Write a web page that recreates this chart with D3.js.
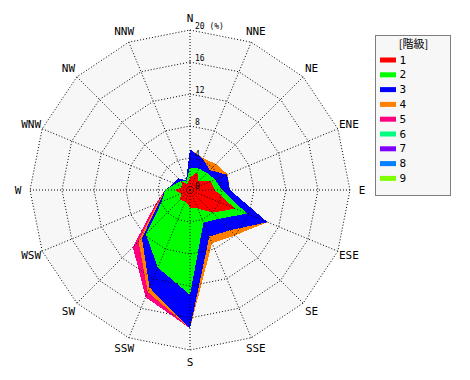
<!DOCTYPE html>
<html>
<head>
<meta charset="utf-8">
<script src="https://cdn.jsdelivr.net/npm/d3@7"></script>
<style>
body { margin: 0; background: #fff; }
text { font-family: "DejaVu Sans Mono", monospace; fill: #000; }
</style>
</head>
<body>
<svg id="windRose" width="470" height="380"></svg>
<script>
const directions = ["N", "NNE", "NE", "ENE", "E", "ESE", "SE", "SSE", "S", "SSW", "SW", "WSW", "W", "WNW", "NW", "NNW"];
const classes = ["1", "2", "3", "4", "5", "6", "7", "8", "9"];
const colors = ["#ff0000", "#00ff00", "#0000ff", "#ff8000", "#ff0080", "#00ff80", "#8000ff", "#0080ff", "#80ff00"];

// % per direction, one list per class
const class1 = [1.6, 2.4, 1.5, 2.8, 3.1, 6.1, 4.0, 2.5, 2.2, 1.5, 1.8, 1.2, 1.9, 1.0, 1.6, 0.8];
const class2 = [1.2, 0.5, 1.5, 0.6, 0.9, 1.6, 1.1, 1.9, 10.9, 9.0, 6.0, 2.6, 1.2, 1.0, 0.0, 0.4];
const class3 = [2.3, 1.3, 0.5, 1.6, 1.0, 2.8, 2.0, 1.9, 4.2, 2.7, 0.7, 0.4, 0.0, 0.2, 0.5, 0.1];
const class4 = [0.0, 0.1, 1.1, 0.1, 0.0, 0.0, 0.9, 0.9, 0.0, 0.6, 0.6, 0.2, 0.0, 0.0, 0.0, 0.0];
const class5 = [0.0, 0.0, 0.0, 0.0, 0.0, 0.0, 0.0, 0.0, 0.0, 0.7, 1.0, 0.3, 0.0, 0.0, 0.0, 0.0];
const class6 = [0, 0, 0, 0, 0, 0, 0, 0, 0, 0, 0, 0, 0, 0, 0, 0];
const class7 = [0, 0, 0, 0, 0, 0, 0, 0, 0, 0, 0, 0, 0, 0, 0, 0];
const class8 = [0, 0, 0, 0, 0, 0, 0, 0, 0, 0, 0, 0, 0, 0, 0, 0];
const class9 = [0, 0, 0, 0, 0, 0, 0, 0, 0, 0, 0, 0, 0, 0, 0, 0];

const ticks = [0, 4, 8, 12, 16, 20];

const series = [class1, class2, class3, class4, class5, class6, class7, class8, class9];

const table = directions.map((dir, i) => {
    const row = {dir};
    classes.forEach((c, j) => row[c] = series[j][i]);
    return row;
});

const stacked = d3.stack().keys(classes)(table);

const cx = 190, cy = 190;

const r = d3.scaleLinear()
    .domain([0, 20])
    .range([0, 160]);

const angle = i => i * 2 * Math.PI / directions.length;

const color = d3.scaleOrdinal()
    .domain(classes)
    .range(colors);

const svg = d3.select("#windRose");

const plot = svg.append("g")
    .attr("transform", `translate(${cx},${cy})`);

const ring = v => d3.lineRadial()
    .angle((d, i) => angle(i))
    .radius(r(v))
    .curve(d3.curveLinearClosed)(directions);

plot.append("path")
    .attr("d", ring(20))
    .attr("fill", "#f7f7f7");

plot.append("g")
    .selectAll("path")
    .data(stacked.slice().reverse())
    .join("path")
    .attr("d", s => d3.lineRadial()
        .angle((d, i) => angle(i))
        .radius(d => r(d[1]))
        .curve(d3.curveLinearClosed)(s))
    .attr("fill", s => color(s.key))
    .attr("shape-rendering", "crispEdges");

const grid = plot.append("g")
    .attr("fill", "none")
    .attr("stroke", "#000")
    .attr("stroke-width", 1)
    .attr("stroke-dasharray", "1,2");

grid.selectAll("path")
    .data(ticks.slice(1))
    .join("path")
    .attr("d", v => ring(v));

grid.selectAll("line")
    .data(directions)
    .join("line")
    .attr("x1", 0)
    .attr("y1", 0)
    .attr("x2", (d, i) => r(20) * Math.sin(angle(i)))
    .attr("y2", (d, i) => -r(20) * Math.cos(angle(i)));

plot.append("g")
    .attr("font-size", 8)
    .selectAll("text")
    .data(ticks)
    .join("text")
    .attr("x", 5)
    .attr("y", v => -r(v) - 1.5)
    .text(v => v === 20 ? "20 (%)" : v);

plot.append("g")
    .attr("font-size", 11)
    .attr("text-anchor", "middle")
    .attr("dominant-baseline", "central")
    .selectAll("text")
    .data(directions)
    .join("text")
    .attr("x", (d, i) => (r(20) + 12) * Math.sin(angle(i)))
    .attr("y", (d, i) => -(r(20) + 12) * Math.cos(angle(i)))
    .text(d => d);

const legend = svg.append("g")
    .attr("transform", "translate(375.5,35.5)");

legend.append("rect")
    .attr("width", 75)
    .attr("height", 160)
    .attr("fill", "#f7f7f7")
    .attr("stroke", "#000")
    .attr("stroke-dasharray", "1,1");

legend.append("text")
    .attr("x", 38)
    .attr("y", 12)
    .attr("text-anchor", "middle")
    .attr("font-size", 11)
    .style("font-family", "'Noto Sans CJK JP', sans-serif")
    .text("[階級]");

const item = legend.selectAll("g")
    .data(classes)
    .join("g")
    .attr("transform", (d, i) => `translate(0,${24.5 + i * 14.8})`);

item.append("rect")
    .attr("x", 4.5)
    .attr("y", -2.5)
    .attr("width", 16)
    .attr("height", 5)
    .attr("fill", d => color(d));

item.append("text")
    .attr("x", 24)
    .attr("y", 0)
    .attr("dominant-baseline", "central")
    .attr("font-size", 11)
    .text(d => d);
</script>
</body>
</html>
